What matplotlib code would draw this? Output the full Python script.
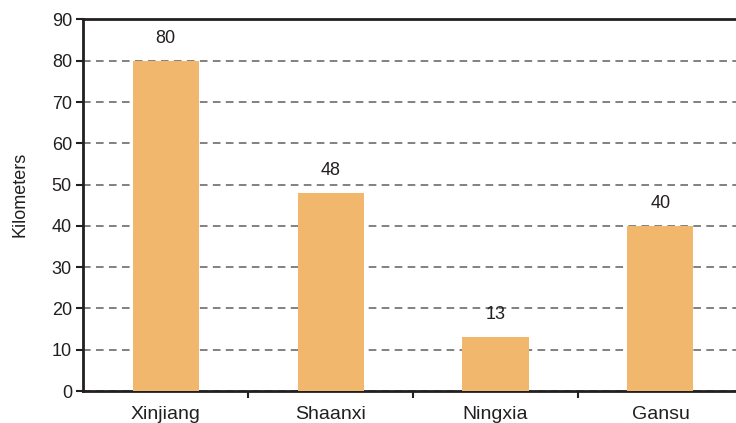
import matplotlib
matplotlib.use('Agg')
import matplotlib.pyplot as plt

plt.rcParams['font.family'] = ['Liberation Sans', 'DejaVu Sans']

provinces = ['Xinjiang', 'Shaanxi', 'Ningxia', 'Gansu']
km = [80, 48, 13, 40]
y_ticks = list(range(0, 100, 10))

BAR_COLOR = '#f1b76c'
TEXT = '#231f20'

fig = plt.figure(figsize=(7.36, 4.23), dpi=100)
ax = fig.add_axes([83 / 736, 1 - 391 / 423, 660 / 736, (391 - 19.5) / 423])

x = range(len(provinces))
ax.bar(x, km, width=0.4, color=BAR_COLOR, zorder=3)
for xi, v in zip(x, km):
    ax.annotate(str(v), (xi, v), xytext=(0, 10), textcoords='offset points',
                ha='center', va='bottom', fontsize=13, color=TEXT)

ax.set_xlim(-0.5, len(provinces) - 0.5)
ax.set_ylim(0, 90)
ax.set_yticks(y_ticks)
ax.yaxis.grid(True, linestyle=(0, (5, 3.5)), color='#5f5f5f', linewidth=1.1, zorder=0)

ax.set_xticks(list(x))
ax.set_xticklabels(provinces)
ax.set_xticks([i + 0.5 for i in range(len(provinces) - 1)], minor=True)
ax.tick_params(axis='x', which='major', length=0, pad=11, labelsize=14, labelcolor=TEXT)
ax.tick_params(axis='x', which='minor', length=5, width=1.5, color=TEXT, direction='out')
ax.tick_params(axis='y', length=5, width=1.5, color=TEXT, labelsize=13, labelcolor=TEXT, pad=3)

for side in ['left', 'top', 'bottom']:
    ax.spines[side].set_linewidth(2)
    ax.spines[side].set_color(TEXT)
ax.spines['right'].set_visible(False)

ax.set_ylabel('Kilometers', fontsize=13, color=TEXT, labelpad=17)
ax.yaxis.label.set_y((391 - 194) / 371.5)

fig.savefig('out.png', dpi=100)
